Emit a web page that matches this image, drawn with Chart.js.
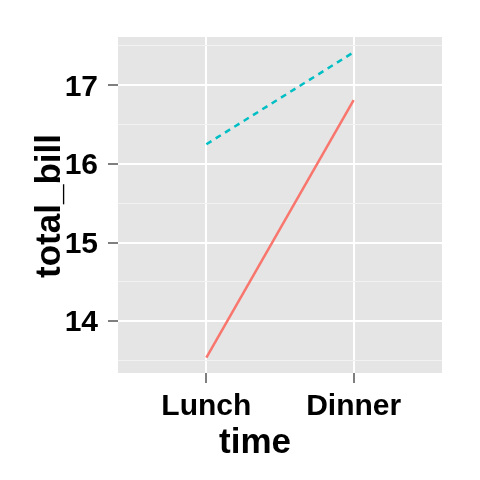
<!DOCTYPE html>
<html>
<head>
<meta charset="utf-8">
<script src="https://cdn.jsdelivr.net/npm/chart.js@4"></script>
<style>
  html, body { margin: 0; padding: 0; background: #ffffff; }
  #wrap { width: 480px; height: 480px; }
</style>
</head>
<body>
<div id="wrap"><canvas id="chart" width="480" height="480"></canvas></div>
<script>
// donnees
const categories = ['Lunch', 'Dinner'];
const catPositions = [1, 2];
const seriesRed = [13.535, 16.81];   // trait plein
const seriesTeal = [16.25, 17.42];   // trait pointille
const yTicks = [13.5, 14, 14.5, 15, 15.5, 16, 16.5, 17, 17.5];
const yMajorTicks = [14, 15, 16, 17];
const xTitle = 'time';
const yTitle = 'total_bill';

const FONT = '"Liberation Sans", Arial, Helvetica, sans-serif';

function toPoints(values) {
    return values.map((v, i) => ({ x: catPositions[i], y: v }));
}

function isMajor(v) {
    return yMajorTicks.indexOf(v) >= 0;
}

// fond gris du panneau + titres des axes
const panelPlugin = {
    id: 'panel',
    beforeDraw(chart) {
        const a = chart.chartArea;
        const ctx = chart.ctx;
        ctx.save();
        ctx.fillStyle = '#e5e5e5';
        ctx.fillRect(a.left, a.top, a.right - a.left, a.bottom - a.top);
        ctx.restore();
    },
    afterDraw(chart) {
        const a = chart.chartArea;
        const ctx = chart.ctx;
        ctx.save();
        ctx.fillStyle = '#000000';
        ctx.font = 'bold 35px ' + FONT;
        ctx.textAlign = 'center';
        ctx.textBaseline = 'alphabetic';
        ctx.fillText(xTitle, 255, 453);
        ctx.translate(59.5, (a.top + a.bottom) / 2 + 1);
        ctx.rotate(-Math.PI / 2);
        ctx.fillText(yTitle, 0, 0);
        ctx.restore();
    }
};

const ctx = document.getElementById('chart').getContext('2d');
new Chart(ctx, {
    type: 'line',
    data: {
        datasets: [
            {
                data: toPoints(seriesRed),
                borderColor: '#F8766D',
                borderWidth: 2.5,
                pointRadius: 0,
                fill: false
            },
            {
                data: toPoints(seriesTeal),
                borderColor: '#00BFC4',
                borderWidth: 2.5,
                borderDash: [6, 5],
                pointRadius: 0,
                fill: false
            }
        ]
    },
    options: {
        responsive: false,
        animation: false,
        layout: { padding: { left: 0, top: 37, right: 38, bottom: 0 } },
        plugins: {
            legend: { display: false },
            tooltip: { enabled: false }
        },
        scales: {
            x: {
                type: 'linear',
                min: 0.4,
                max: 2.6,
                afterBuildTicks: (scale) => {
                    scale.ticks = catPositions.map(v => ({ value: v }));
                },
                afterFit: (scale) => { scale.height = 107; },
                border: { display: false },
                grid: {
                    color: '#ffffff',
                    lineWidth: 2,
                    tickLength: 10,
                    tickColor: '#7f7f7f',
                    tickWidth: 2
                },
                ticks: {
                    padding: 6,
                    color: '#000000',
                    maxRotation: 0,
                    font: { family: FONT, size: 30, weight: 'bold' },
                    callback: (value) => categories[catPositions.indexOf(value)] || ''
                }
            },
            y: {
                type: 'linear',
                min: 13.341,
                max: 17.614,
                afterBuildTicks: (scale) => {
                    scale.ticks = yTicks.map(v => ({ value: v }));
                },
                afterFit: (scale) => { scale.width = 118; },
                border: { display: false },
                grid: {
                    color: (c) => isMajor(c.tick.value) ? '#ffffff' : '#f2f2f2',
                    lineWidth: (c) => isMajor(c.tick.value) ? 2 : 1,
                    tickLength: 10,
                    tickColor: (c) => isMajor(c.tick.value) ? '#7f7f7f' : 'rgba(0,0,0,0)',
                    tickWidth: 2
                },
                ticks: {
                    padding: 10,
                    labelOffset: 2,
                    color: '#000000',
                    font: { family: FONT, size: 30, weight: 'bold' },
                    callback: (value) => isMajor(value) ? String(value) : ''
                }
            }
        }
    },
    plugins: [panelPlugin]
});
</script>
</body>
</html>
